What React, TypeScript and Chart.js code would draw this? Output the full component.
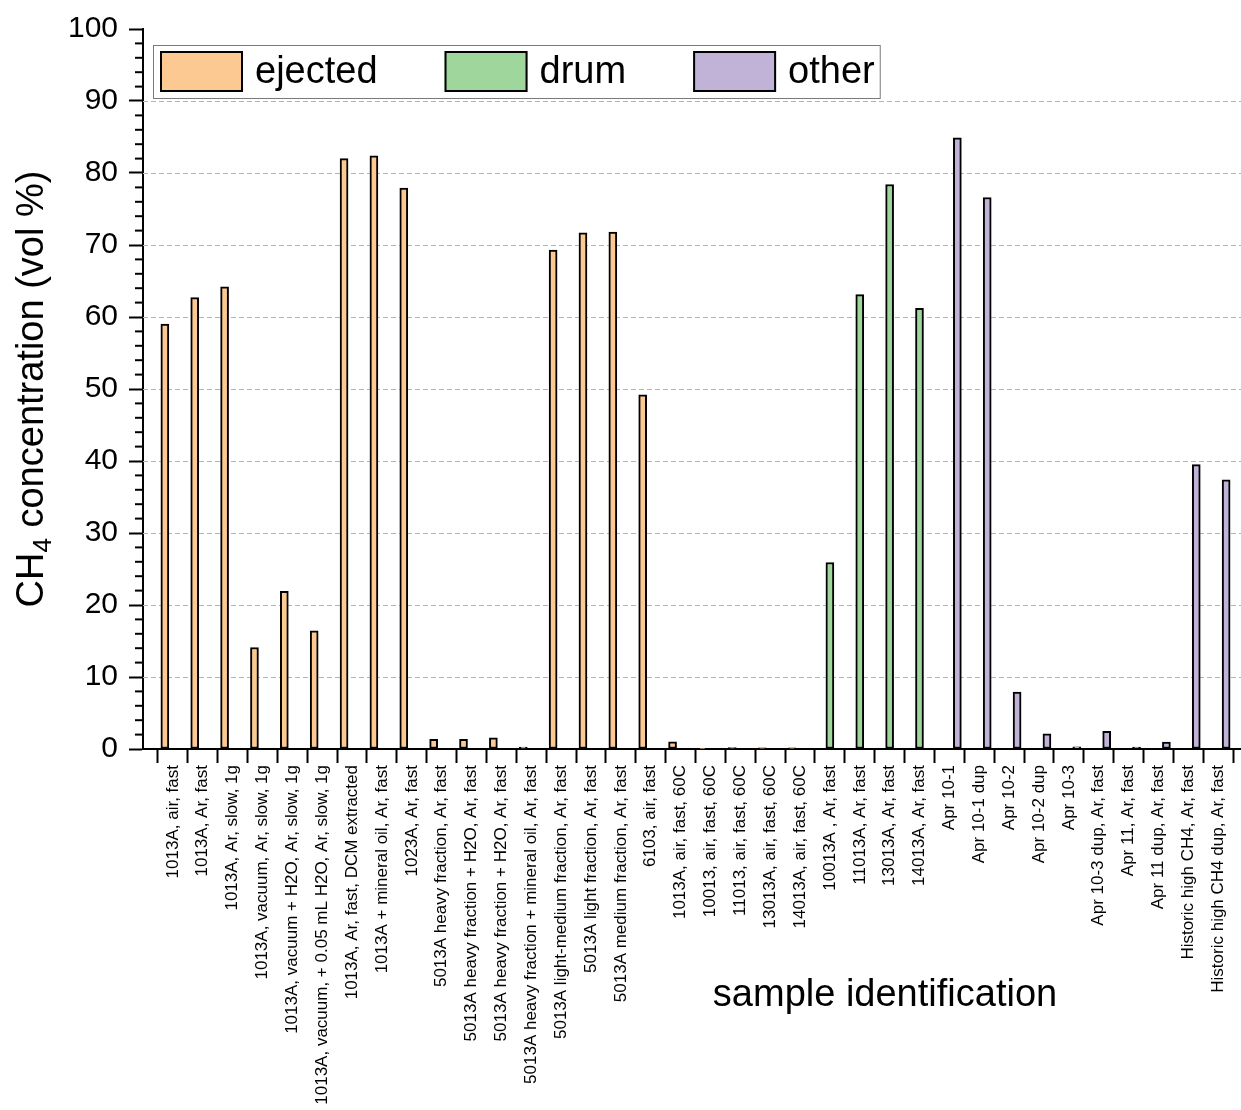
import { useEffect, useRef } from 'react';
import { Chart, registerables } from 'chart.js';

Chart.register(...registerables);

const FONT = '"Liberation Sans", Arial, Helvetica, sans-serif';

const ejectedLabels = [
  '1013A, air, fast',
  '1013A, Ar, fast',
  '1013A, Ar, slow, 1g',
  '1013A, vacuum, Ar, slow, 1g',
  '1013A, vacuum + H2O, Ar, slow, 1g',
  '1013A, vacuum, + 0.05 mL H2O, Ar, slow, 1g',
  '1013A, Ar, fast, DCM extracted',
  '1013A + mineral oil, Ar, fast',
  '1023A, Ar, fast',
  '5013A heavy fraction, Ar, fast',
  '5013A heavy fraction + H2O, Ar, fast',
  '5013A heavy fraction + H2O, Ar, fast',
  '5013A heavy fraction + mineral oil, Ar, fast',
  '5013A light-medium fraction, Ar, fast',
  '5013A light fraction, Ar, fast',
  '5013A medium fraction, Ar, fast',
  '6103, air, fast',
  '1013A, air, fast, 60C',
  '10013, air, fast, 60C',
  '11013, air, fast, 60C',
  '13013A, air, fast, 60C',
  '14013A, air, fast, 60C',
];
const drumLabels = ['10013A , Ar, fast', '11013A, Ar, fast', '13013A, Ar, fast', '14013A, Ar, fast'];
const otherLabels = [
  'Apr 10-1',
  'Apr 10-1 dup',
  'Apr 10-2',
  'Apr 10-2 dup',
  'Apr 10-3',
  'Apr 10-3 dup, Ar, fast',
  'Apr 11, Ar, fast',
  'Apr 11 dup, Ar, fast',
  'Historic high CH4, Ar, fast',
  'Historic high CH4 dup, Ar, fast',
];

const ejectedValues = [
  59.0, 62.7, 64.2, 14.1, 21.9, 16.4, 82.0, 82.4, 77.9, 1.35, 1.35, 1.55, 0.25, 69.3, 71.7, 71.8,
  49.2, 1.0, 0.05, 0.2, 0.15, 0.15,
];
const drumValues = [25.9, 63.1, 78.4, 61.2];
const otherValues = [84.9, 76.6, 7.9, 2.1, 0.3, 2.45, 0.28, 0.95, 39.5, 37.4];

const seriesNames = ['ejected', 'drum', 'other'];
const seriesColors = ['#FCC993', '#9ED69C', '#C1B2D8'];

const categories = [...ejectedLabels, ...drumLabels, ...otherLabels];

const yMin = 0;
const yMax = 100;
const yStep = 10;
const yMinorStep = 2;

const toPoints = (values: number[], start: number) => values.map((v, i) => ({ x: start + i, y: v }));

const decorPlugin = {
  id: 'decor',
  beforeDatasetsDraw(chart: any) {
    const { ctx, chartArea } = chart;
    const ys = chart.scales.y;
    ctx.save();
    ctx.strokeStyle = '#b4b4b4';
    ctx.lineWidth = 1;
    ctx.setLineDash([5, 3]);
    for (let v = yMin + yStep; v < yMax; v += yStep) {
      const py = Math.round(ys.getPixelForValue(v)) + 0.5;
      ctx.beginPath();
      ctx.moveTo(chartArea.left, py);
      ctx.lineTo(chartArea.right, py);
      ctx.stroke();
    }
    ctx.restore();
  },
  afterDraw(chart: any) {
    const { ctx, chartArea } = chart;
    const ys = chart.scales.y;
    ctx.save();
    // minor ticks
    ctx.strokeStyle = '#000';
    ctx.lineWidth = 2;
    for (let v = yMin; v <= yMax; v += yMinorStep) {
      if (v % yStep === 0) continue;
      const py = ys.getPixelForValue(v);
      ctx.beginPath();
      ctx.moveTo(chartArea.left - 8, py);
      ctx.lineTo(chartArea.left, py);
      ctx.stroke();
    }

    // y title with subscript
    ctx.fillStyle = '#000';
    const big = `38px ${FONT}`;
    const small = `26px ${FONT}`;
    const p1 = 'CH';
    const p2 = '4';
    const p3 = ' concentration (vol %)';
    ctx.font = big;
    const w1 = ctx.measureText(p1).width;
    const w3 = ctx.measureText(p3).width;
    ctx.font = small;
    const w2 = ctx.measureText(p2).width;
    const total = w1 + w2 + w3;
    const cy = (chartArea.top + chartArea.bottom) / 2;
    ctx.translate(43, cy);
    ctx.rotate(-Math.PI / 2);
    ctx.textBaseline = 'alphabetic';
    ctx.textAlign = 'left';
    let tx = -total / 2;
    ctx.font = big;
    ctx.fillText(p1, tx, 0);
    tx += w1;
    ctx.font = small;
    ctx.fillText(p2, tx, 8);
    tx += w2;
    ctx.font = big;
    ctx.fillText(p3, tx, 0);
    ctx.setTransform(1, 0, 0, 1, 0, 0);

    // x title
    ctx.font = big;
    ctx.textAlign = 'center';
    ctx.textBaseline = 'alphabetic';
    ctx.fillText('sample identification', chartArea.left + 742, 1006);

    // legend
    const lx = chartArea.left + 10;
    const ly = chartArea.top + 16;
    const lh = 53;
    ctx.font = big;
    const items: { sx: number; tx: number }[] = [];
    let x = lx + 7;
    for (let i = 0; i < seriesNames.length; i++) {
      const tw = ctx.measureText(seriesNames[i]).width;
      items.push({ sx: x, tx: x + 95 });
      x = x + 95 + tw + 67;
    }
    const lastEnd = items[items.length - 1].tx + ctx.measureText(seriesNames[seriesNames.length - 1]).width;
    const lw = lastEnd + 5 - lx;
    ctx.fillStyle = '#fff';
    ctx.fillRect(lx, ly, lw, lh);
    ctx.strokeStyle = '#7a7a7a';
    ctx.lineWidth = 1;
    ctx.strokeRect(lx + 0.5, ly + 0.5, lw, lh);
    for (let i = 0; i < seriesNames.length; i++) {
      const it = items[i];
      ctx.fillStyle = seriesColors[i];
      ctx.fillRect(it.sx, ly + 6, 83, 41);
      ctx.strokeStyle = '#000';
      ctx.lineWidth = 2;
      ctx.strokeRect(it.sx + 1, ly + 7, 81, 39);
      ctx.fillStyle = '#000';
      ctx.textAlign = 'left';
      ctx.textBaseline = 'middle';
      ctx.fillText(seriesNames[i], it.tx, ly + lh / 2 + 1);
    }
    ctx.restore();
  },
};

export default function App() {
  const ref = useRef<HTMLCanvasElement | null>(null);

  useEffect(() => {
    if (!ref.current) return;
    Chart.defaults.font.family = FONT;
    Chart.defaults.color = '#000';
    const common = {
      borderColor: '#000',
      borderWidth: 2,
      borderSkipped: false,
      barThickness: 8,
    };
    const chart = new Chart(ref.current, {
      type: 'bar',
      data: {
        datasets: [
          { label: seriesNames[0], data: toPoints(ejectedValues, 0), backgroundColor: seriesColors[0], ...common },
          {
            label: seriesNames[1],
            data: toPoints(drumValues, ejectedValues.length),
            backgroundColor: seriesColors[1],
            ...common,
          },
          {
            label: seriesNames[2],
            data: toPoints(otherValues, ejectedValues.length + drumValues.length),
            backgroundColor: seriesColors[2],
            ...common,
          },
        ],
      } as any,
      options: {
        animation: false,
        responsive: false,
        devicePixelRatio: 1,
        layout: { padding: { top: 28, left: 0, right: 0, bottom: 0 } },
        plugins: { legend: { display: false }, tooltip: { enabled: false } },
        scales: {
          x: {
            type: 'linear',
            min: -1,
            max: categories.length,
            offset: false,
            grid: {
              offset: false,
              drawOnChartArea: false,
              drawTicks: true,
              tickLength: 14,
              tickWidth: 2,
              tickColor: '#000',
              color: '#000',
            },
            border: { display: true, color: '#000', width: 2 },
            afterBuildTicks(scale: any) {
              scale.ticks = Array.from({ length: categories.length + 1 }, (_, i) => ({ value: i - 0.5 }));
            },
            afterFit(scale: any) {
              scale.height = 361;
              scale.paddingLeft = 0;
              scale.paddingRight = 0;
            },
            ticks: {
              autoSkip: false,
              minRotation: 90,
              maxRotation: 90,
              padding: 2,
              labelOffset: 15,
              color: '#000',
              font: { size: 17, family: FONT },
              callback: (_v: any, idx: number) => (idx < categories.length ? categories[idx] : ''),
            },
          },
          y: {
            type: 'linear',
            min: yMin,
            max: yMax,
            grid: {
              drawOnChartArea: false,
              tickLength: 14,
              tickWidth: 2,
              tickColor: '#000',
              color: '#000',
            },
            border: { display: true, color: '#000', width: 2 },
            afterFit(scale: any) {
              scale.width = 143;
            },
            ticks: {
              stepSize: yStep,
              padding: 11,
              color: '#000',
              font: { size: 30, family: FONT },
            },
          },
        },
      } as any,
      plugins: [decorPlugin],
    });
    return () => chart.destroy();
  }, []);

  return (
    <div
      style={{
        position: 'fixed',
        left: 0,
        top: 0,
        width: 1241,
        height: 1110,
        overflow: 'hidden',
        background: '#fff',
      }}
    >
      <canvas ref={ref} width={1248} height={1110} style={{ display: 'block' }} />
    </div>
  );
}
